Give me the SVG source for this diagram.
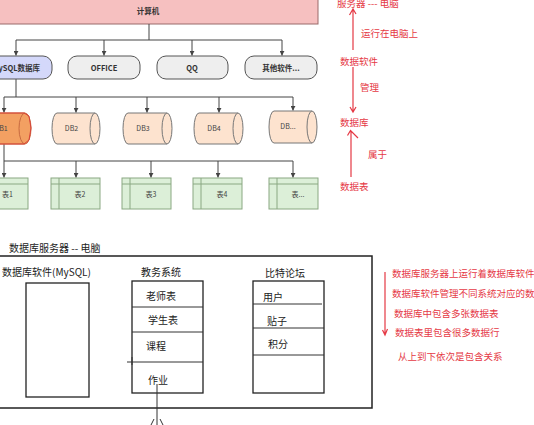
<svg xmlns="http://www.w3.org/2000/svg" width="534" height="425" viewBox="0 0 534 425">
<defs>
<marker id="ah" viewBox="0 0 8 8" refX="7.5" refY="4" markerWidth="5" markerHeight="5" orient="auto" markerUnits="userSpaceOnUse">
<path d="M0,0 L8,4 L0,8 Z" fill="#444"/>
</marker>
<style>
.t{font-family:"Noto Sans CJK SC","Liberation Sans",sans-serif;}
.b{font-weight:bold;font-size:7.5px;fill:#333;}
.s{font-size:7px;fill:#444;}
.k{font-size:10px;fill:#222;}
.r{font-size:9.5px;fill:#e53945;}
.conn{stroke:#444;stroke-width:1;fill:none;}
.pill{fill:#eeeeee;stroke:#555;stroke-width:1;}
.cyl{fill:#fde3cf;stroke:#777;stroke-width:1;}
.tbl{fill:#dcefd8;stroke:#8aa882;stroke-width:1;}
.red{stroke:#e53945;stroke-width:1.2;fill:none;}
.blk{stroke:#222;stroke-width:1.3;fill:#fff;}
.div{stroke:#333;stroke-width:1;}
</style>
</defs>
<rect width="534" height="425" fill="#fff"/>

<g id="computer">
<rect x="-22" y="-5" width="340" height="29" fill="#f6c0c0" stroke="#9a6a6a" stroke-width="1"/>
<text class="t b" x="148" y="14" text-anchor="middle">计算机</text>
</g>

<g id="connectors">
<path class="conn" d="M149,24 V40 M16,40 H282"/>
<path class="conn" d="M16,40 V55.5" marker-end="url(#ah)"/>
<path class="conn" d="M104,40 V55.5" marker-end="url(#ah)"/>
<path class="conn" d="M192,40 V55.5" marker-end="url(#ah)"/>
<path class="conn" d="M282,40 V55.5" marker-end="url(#ah)"/>
<path class="conn" d="M16,79 V97 M4,97 H293"/>
<path class="conn" d="M4,97 V112.5" marker-end="url(#ah)"/>
<path class="conn" d="M76,97 V112.5" marker-end="url(#ah)"/>
<path class="conn" d="M147,97 V112.5" marker-end="url(#ah)"/>
<path class="conn" d="M219,97 V112.5" marker-end="url(#ah)"/>
<path class="conn" d="M293,97 V110.5" marker-end="url(#ah)"/>
<path class="conn" d="M4,144 V161 H293"/>
<path class="conn" d="M4,161 V177.5" marker-end="url(#ah)"/>
<path class="conn" d="M76,161 V177.5" marker-end="url(#ah)"/>
<path class="conn" d="M151,161 V177.5" marker-end="url(#ah)"/>
<path class="conn" d="M218,161 V177.5" marker-end="url(#ah)"/>
<path class="conn" d="M293,161 V177.5" marker-end="url(#ah)"/>
</g>

<g id="mysql">
<rect x="-20" y="56" width="72" height="23" rx="9" fill="#d4d8fa" stroke="#555"/>
<text class="t b" x="16" y="70.5" text-anchor="middle">MySQL数据库</text>
</g>
<g id="office">
<rect class="pill" x="68" y="56" width="72" height="23" rx="9"/>
<text class="t b" x="104" y="70.5" text-anchor="middle">OFFICE</text>
</g>
<g id="qq">
<rect class="pill" x="157" y="56" width="71" height="23" rx="9"/>
<text class="t b" x="192" y="70.5" text-anchor="middle">QQ</text>
</g>
<g id="other">
<rect class="pill" x="245" y="56" width="72" height="23" rx="9"/>
<text class="t b" x="281" y="70.5" text-anchor="middle">其他软件...</text>
</g>

<g id="db1">
<path d="M-12,113 H25 A6,15.5 0 0 1 25,144 H-12 Z" fill="#f3a062" stroke="#c86a40"/>
<path d="M25,113 A6,15.5 0 0 0 25,144" fill="none" stroke="#c86a40"/>
<path d="M-12,113 H24 L29,116 L31,128 L29,140 L24,144 H-12" fill="none" stroke="#d8443a" stroke-width="1"/>
<text class="t s" x="1" y="131" text-anchor="middle">DB1</text>
</g>
<g id="db2">
<path class="cyl" d="M57,113 H95 A5,15.5 0 0 1 95,144 H57 A5,15.5 0 0 1 57,113 Z"/>
<path class="cyl" d="M95,113 A5,15.5 0 0 0 95,144" fill="none"/>
<text class="t s" x="71.5" y="131" text-anchor="middle">DB2</text>
</g>
<g id="db3">
<path class="cyl" d="M128,113 H167 A5,15.5 0 0 1 167,144 H128 A5,15.5 0 0 1 128,113 Z"/>
<path class="cyl" d="M167,113 A5,15.5 0 0 0 167,144" fill="none"/>
<text class="t s" x="143" y="131" text-anchor="middle">DB3</text>
</g>
<g id="db4">
<path class="cyl" d="M199,113 H238 A5,15.5 0 0 1 238,144 H199 A5,15.5 0 0 1 199,113 Z"/>
<path class="cyl" d="M238,113 A5,15.5 0 0 0 238,144" fill="none"/>
<text class="t s" x="214" y="131" text-anchor="middle">DB4</text>
</g>
<g id="dbn">
<path class="cyl" d="M274,111 H312 A5,16 0 0 1 312,143 H274 A5,16 0 0 1 274,111 Z"/>
<path class="cyl" d="M312,111 A5,16 0 0 0 312,143" fill="none"/>
<text class="t s" x="288" y="129" text-anchor="middle">DB...</text>
</g>

<g id="t1">
<rect class="tbl" x="-21" y="178" width="49" height="31"/>
<path class="tbl" d="M-21,184 H28 M-13,178 V209" fill="none"/>
<text class="t s" x="7.5" y="197" text-anchor="middle">表1</text>
</g>
<g id="t2">
<rect class="tbl" x="51" y="178" width="49" height="31"/>
<path class="tbl" d="M51,184 H100 M59,178 V209" fill="none"/>
<text class="t s" x="80" y="197" text-anchor="middle">表2</text>
</g>
<g id="t3">
<rect class="tbl" x="122" y="178" width="49" height="31"/>
<path class="tbl" d="M122,184 H171 M130,178 V209" fill="none"/>
<text class="t s" x="151" y="197" text-anchor="middle">表3</text>
</g>
<g id="t4">
<rect class="tbl" x="193" y="178" width="49" height="31"/>
<path class="tbl" d="M193,184 H242 M201,178 V209" fill="none"/>
<text class="t s" x="222" y="197" text-anchor="middle">表4</text>
</g>
<g id="tn">
<rect class="tbl" x="269" y="178" width="49" height="31"/>
<path class="tbl" d="M269,184 H318 M277,178 V209" fill="none"/>
<text class="t s" x="298" y="197" text-anchor="middle">表...</text>
</g>

<g id="right-notes">
<text class="t r" x="337" y="7">服务器 --- 电脑</text>
<path class="red" d="M353,50 V9 M349.5,15 L353,9 L356,14"/>
<text class="t r" x="361" y="37">运行在电脑上</text>
<text class="t r" x="340" y="65">数据软件</text>
<path class="red" d="M353,67 V112 M350,107 L353,112 L356,107"/>
<text class="t r" x="360" y="91">管理</text>
<text class="t r" x="340" y="126">数据库</text>
<path class="red" d="M351,177 V131 M347.5,135.5 L350.5,130.5 L358,138"/>
<text class="t r" x="368" y="158">属于</text>
<text class="t r" x="340" y="190">数据表</text>
</g>

<g id="server">
<text class="t k" x="9" y="252">数据库服务器  -- 电脑</text>
<rect x="-10" y="256" width="382" height="152" fill="none" stroke="#222" stroke-width="1.5"/>
</g>

<g id="mysql-soft">
<text class="t k" x="2" y="276">数据库软件(MySQL)</text>
<rect class="blk" x="26" y="283" width="63" height="114"/>
</g>

<g id="jiaowu">
<text class="t k" x="161" y="276" text-anchor="middle">教务系统</text>
<rect class="blk" x="132" y="281" width="71" height="112"/>
<path class="div" d="M132,307 H203 M132,332 H203 M127,362 H203 M132,357 V365"/>
<text class="t k" x="146" y="300">老师表</text>
<text class="t k" x="148" y="324">学生表</text>
<text class="t k" x="146" y="350">课程</text>
<text class="t k" x="148" y="384">作业</text>
<path class="div" d="M157,384 V425"/>
<path class="div" d="M151,425 L154,419 M160,419 L163,425"/>
</g>

<g id="bite">
<text class="t k" x="285" y="277" text-anchor="middle">比特论坛</text>
<rect class="blk" x="253" y="281" width="71" height="112"/>
<path class="div" d="M253,304 H322 M253,328 H324 M253,355 H324"/>
<text class="t k" x="263" y="301">用户</text>
<text class="t k" x="267" y="325">贴子</text>
<text class="t k" x="268" y="348">积分</text>
</g>

<g id="bottom-notes">
<path class="red" d="M385,272 V335 M382.5,330 L385,335 L387.5,329"/>
<text class="t r" x="392" y="277">数据库服务器上运行着数据库软件</text>
<text class="t r" x="392" y="297">数据库软件管理不同系统对应的数据库</text>
<text class="t r" x="394" y="317">数据库中包含多张数据表</text>
<text class="t r" x="395" y="336">数据表里包含很多数据行</text>
<text class="t r" x="398" y="360">从上到下依次是包含关系</text>
</g>
</svg>
